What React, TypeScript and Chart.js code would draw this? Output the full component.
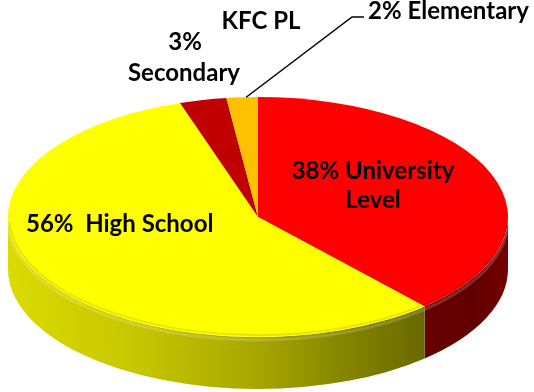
import React, { useEffect, useRef } from "react";
import { Chart, registerables } from "chart.js";

Chart.register(...registerables);

// ---- data ----
const categories = ["University Level", "High School", "Secondary", "Elementary"];
const values = [38, 56, 3, 2];
const percentLabels = ["38%", "56%", "3%", "2%"];
const sliceColors = ["#FF0000", "#FFFF00", "#C00000", "#FFC000"];
const sideBase = [
  [255, 0, 0],
  [255, 255, 0],
  [192, 0, 0],
  [255, 192, 0],
];
const chartTitle = "KFC PL";

// ---- layout ----
const W = 534;
const H = 392;
const CX = 258;
const CY = 217;
const RX = 250;
const RY = 120;
const DEPTH = 52;
const FONT = "bold 24px Lato, 'Open Sans', sans-serif";

const shadeStops: [number, number][] = [
  [0, 0.86],
  [0.25, 0.78],
  [0.5, 0.65],
  [0.7, 0.5],
  [0.85, 0.4],
  [0.93, 0.38],
  [1, 0.46],
];

const pie3d = {
  id: "pie3d",
  beforeDatasetsDraw(chart: any) {
    const ctx: CanvasRenderingContext2D = chart.ctx;
    const arcs: any[] = chart.getDatasetMeta(0).data;
    ctx.save();
    if (!arcs.length) return;
    // outer side wall (front half only)
    arcs.forEach((arc: any, i: number) => {
      const s = Math.max(arc.startAngle, 0);
      const e = Math.min(arc.endAngle, Math.PI);
      if (e <= s) return;
      const g = ctx.createLinearGradient(CX - RX, 0, CX + RX, 0);
      const [r, gg, b] = sideBase[i];
      shadeStops.forEach(([t, f]) => {
        g.addColorStop(t, `rgb(${Math.round(r * f)},${Math.round(gg * f)},${Math.round(b * f)})`);
      });
      ctx.beginPath();
      ctx.ellipse(CX, CY, RX, RY, 0, s, e, false);
      ctx.ellipse(CX, CY + DEPTH, RX, RY, 0, e, s, true);
      ctx.closePath();
      ctx.fillStyle = g;
      ctx.fill();
      // soft bevel highlight just below the rim
      ctx.save();
      ctx.beginPath();
      ctx.ellipse(CX, CY + 3, RX, RY, 0, s, e, false);
      ctx.strokeStyle = "rgba(255,255,255,0.18)";
      ctx.lineWidth = 3;
      ctx.stroke();
      ctx.restore();
    });
    // tilt transform for the top face drawn by Chart.js
    const a0 = arcs[0];
    const R = a0.outerRadius;
    const sx = RX / R;
    const sy = RY / R;
    ctx.setTransform(sx, 0, 0, sy, CX - a0.x * sx, CY - a0.y * sy);
  },
  afterDatasetsDraw(chart: any) {
    const ctx: CanvasRenderingContext2D = chart.ctx;
    ctx.restore();
    // faint rim shading on the front edge of the top face
    ctx.save();
    ctx.beginPath();
    ctx.ellipse(CX, CY - 1, RX - 1, RY - 1, 0, 0.05, Math.PI - 0.05, false);
    ctx.strokeStyle = "rgba(0,0,0,0.10)";
    ctx.lineWidth = 2;
    ctx.stroke();
    ctx.restore();
  },
  afterDraw(chart: any) {
    const ctx: CanvasRenderingContext2D = chart.ctx;
    const arcs: any[] = chart.getDatasetMeta(0).data;
    if (!arcs.length) return;
    ctx.save();
    ctx.fillStyle = "#000";
    ctx.font = FONT;
    ctx.textBaseline = "alphabetic";
    ctx.textAlign = "center";

    // University Level
    const uni = categories[0].split(" ");
    ctx.fillText(`${percentLabels[0]} ${uni[0]}`, 373, 179);
    ctx.fillText(uni[1], 373, 208);

    // High School
    ctx.textAlign = "left";
    ctx.fillText(`${percentLabels[1]}  ${categories[1]}`, 26, 232);

    // Secondary
    ctx.textAlign = "center";
    ctx.fillText(percentLabels[2], 185, 50);
    ctx.fillText(categories[2], 184, 81);

    // Title
    ctx.fillText(chartTitle, 261, 29);

    // Elementary with leader line
    const el = arcs[3];
    const mid = (el.startAngle + el.endAngle) / 2;
    const px = CX + RX * Math.cos(mid) + 4;
    const py = CY + RY * Math.sin(mid);
    ctx.strokeStyle = "#000";
    ctx.lineWidth = 1.5;
    ctx.beginPath();
    ctx.moveTo(px, py);
    ctx.lineTo(352, 17);
    ctx.lineTo(364, 17);
    ctx.stroke();
    ctx.textAlign = "left";
    ctx.fillText(`${percentLabels[3]} ${categories[3]}`, 368, 19);
    ctx.restore();
  },
};

export default function App() {
  const ref = useRef<HTMLCanvasElement | null>(null);
  useEffect(() => {
    if (!ref.current) return;
    const chart = new Chart(ref.current, {
      type: "pie",
      data: {
        labels: categories,
        datasets: [
          {
            data: values,
            backgroundColor: sliceColors,
            borderWidth: 0,
          },
        ],
      },
      options: {
        responsive: false,
        animation: false,
        events: [],
        layout: { padding: 20 },
        plugins: {
          legend: { display: false },
          tooltip: { enabled: false },
          title: { display: false },
        },
      },
      plugins: [pie3d],
    });
    return () => chart.destroy();
  }, []);
  return (
    <div style={{ position: "absolute", left: 0, top: 0, width: W, height: H, background: "#fff" }}>
      <canvas ref={ref} width={W} height={H} style={{ display: "block", width: W, height: H }} />
    </div>
  );
}
